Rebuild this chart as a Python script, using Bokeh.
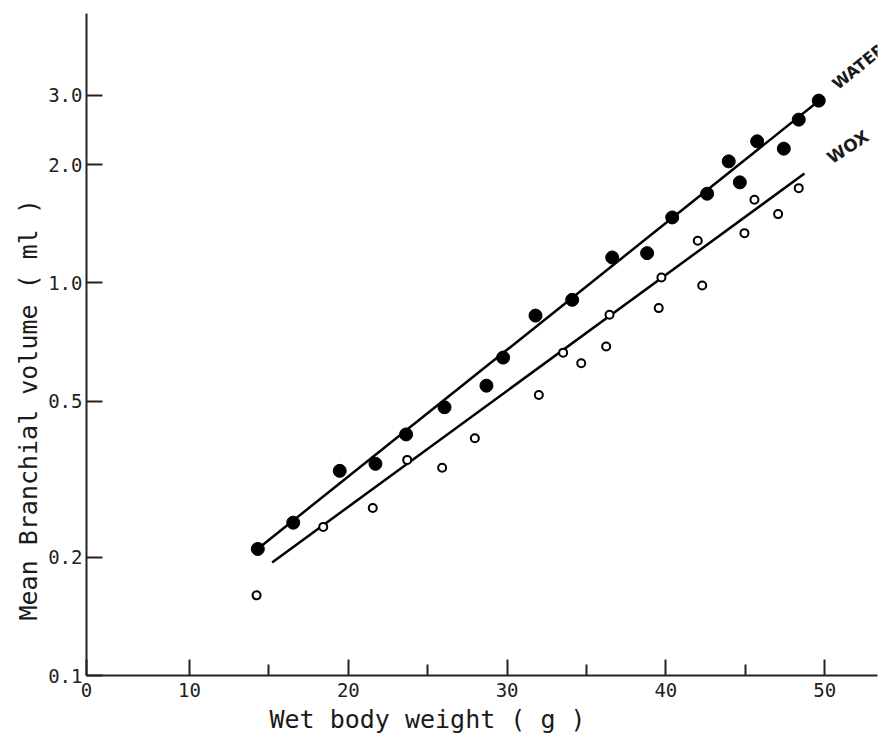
import math
from bokeh.plotting import figure
from bokeh.models import FixedTicker, PrintfTickFormatter, Label, Range1d, Title
from bokeh.embed import file_html
from bokeh.resources import INLINE

# ---- data ----
water_weight = [14.30, 16.53, 19.46, 21.71, 23.64, 26.06, 28.70, 29.75, 31.79, 34.10,
                36.62, 38.82, 40.40, 42.60, 43.96, 44.66, 45.75, 47.43, 48.37, 49.63]
water_volume = [0.210, 0.245, 0.332, 0.346, 0.411, 0.482, 0.547, 0.645, 0.825, 0.905,
                1.160, 1.190, 1.467, 1.686, 2.038, 1.802, 2.292, 2.196, 2.603, 2.910]

wax_weight = [14.22, 18.42, 21.54, 23.71, 25.91, 27.97, 32.00, 33.53, 34.67, 36.24,
              36.45, 39.55, 39.72, 42.01, 42.29, 44.95, 45.58, 47.07, 48.37]
wax_volume = [0.160, 0.239, 0.267, 0.354, 0.338, 0.402, 0.518, 0.664, 0.624, 0.688,
              0.829, 0.862, 1.031, 1.280, 0.984, 1.338, 1.628, 1.496, 1.742]

water_fit_weight = [14.09, 49.68]
water_fit_volume = [0.207, 2.915]
wax_fit_weight = [15.20, 48.73]
wax_fit_volume = [0.194, 1.897]

x_ticks = [10, 20, 30, 40, 50]
x_minor_ticks = [15, 25, 35, 45]
y_ticks = [0.1, 0.2, 0.5, 1.0, 2.0, 3.0]
origin_label = "0"

x_label = "Wet body weight ( g )"
y_label = "Mean Branchial volume ( ml )"
water_label = "WATER"
wax_label = "WOX"

X_START, X_END = 3.51, 53.33
Y_START, Y_END = 0.1, 4.85

MONO = "DejaVu Sans Mono"
AX = "#222222"
INK = "#1a1a1a"

p = figure(width=895, height=736,
           x_range=Range1d(X_START, X_END), y_range=Range1d(Y_START, Y_END),
           y_axis_type="log", output_backend="svg", toolbar_location=None,
           min_border_left=86, min_border_right=18, min_border_top=13, min_border_bottom=61)
p.outline_line_color = None
p.xgrid.visible = False
p.ygrid.visible = False
p.background_fill_color = "white"
p.border_fill_color = "white"

# x axis (the origin carries the "0" label, as in the original figure)
xa = p.xaxis[0]
xa.ticker = FixedTicker(ticks=[X_START] + x_ticks, minor_ticks=x_minor_ticks)
xa.major_label_overrides = {X_START: origin_label}
xa.axis_line_width = 2
xa.axis_line_color = AX
xa.major_tick_in = 16
xa.major_tick_out = 0
xa.minor_tick_in = 11
xa.minor_tick_out = 0
xa.major_tick_line_width = 2
xa.minor_tick_line_width = 2
xa.major_tick_line_color = AX
xa.minor_tick_line_color = AX
xa.major_label_text_font = MONO
xa.major_label_text_font_size = "19px"
xa.major_label_text_color = AX
xa.major_label_standoff = 7

# y axis
ya = p.yaxis[0]
ya.ticker = FixedTicker(ticks=y_ticks)
ya.formatter = PrintfTickFormatter(format="%.1f")
ya.axis_line_width = 2
ya.axis_line_color = AX
ya.major_tick_in = 16
ya.major_tick_out = 0
ya.major_tick_line_width = 2
ya.major_tick_line_color = AX
ya.minor_tick_line_color = None
ya.major_label_text_font = MONO
ya.major_label_text_font_size = "19px"
ya.major_label_text_color = AX
ya.major_label_standoff = 4

# axis titles (off-centre, as in the original)
p.add_layout(Title(text=x_label, align="left", offset=183, standoff=6,
                   text_font=MONO, text_font_size="25px", text_font_style="normal",
                   text_color=INK), "below")
p.add_layout(Title(text=y_label, align="left", offset=55, standoff=6,
                   text_font=MONO, text_font_size="25px", text_font_style="normal",
                   text_color=INK), "left")

# regression lines
p.line(water_fit_weight, water_fit_volume, line_width=2.5, line_color="black")
p.line(wax_fit_weight, wax_fit_volume, line_width=2.5, line_color="black")

# points
p.scatter(water_weight, water_volume, size=13, fill_color="black", line_color="black")
p.scatter(wax_weight, wax_volume, size=8, fill_color="white", line_color="black", line_width=2)

# line labels
p.add_layout(Label(x=50.62, y=3.17, text=water_label, text_font="DejaVu Sans",
                   text_font_size="16px", text_font_style="bold", text_color=INK,
                   text_align="left", text_baseline="alphabetic", angle=math.radians(39)))
p.add_layout(Label(x=50.26, y=2.06, text=wax_label, text_font="DejaVu Sans",
                   text_font_size="17px", text_font_style="bold", text_color=INK,
                   text_align="left", text_baseline="alphabetic", angle=math.radians(33)))

open("out.html", "w").write(file_html(p, INLINE))
